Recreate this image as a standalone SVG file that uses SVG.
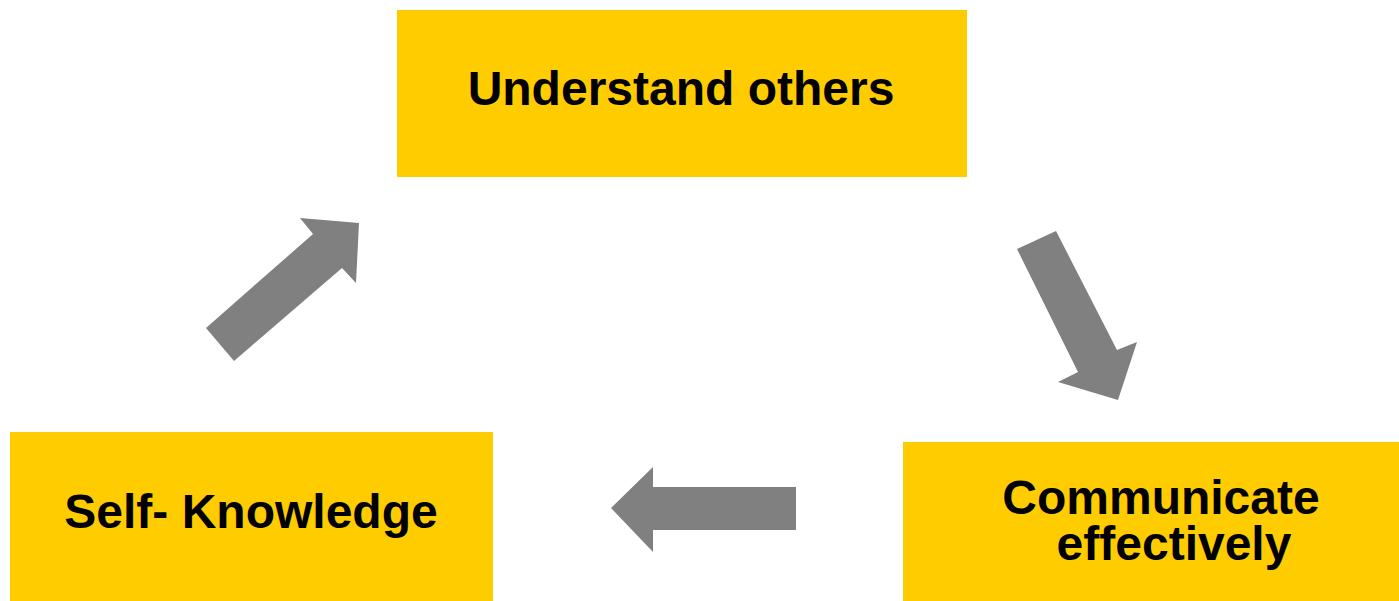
<svg xmlns="http://www.w3.org/2000/svg" width="1399" height="601" viewBox="0 0 1399 601">
<style>
.box{fill:#FFCC00}
.lbl{font-family:"Liberation Sans",Arial,sans-serif;font-weight:bold;font-size:48px;fill:#000;text-anchor:middle}
.arr{fill:#808080}
</style>
<rect width="1399" height="601" fill="#fff"/>
<g id="connectors">
<polygon class="arr" points="206,328 313,234 300,218 359,223 356,283 342,268 234,361"/>
<polygon class="arr" points="1017,249 1056,231 1117,350 1137,342 1118,400 1058,382 1078,372"/>
<polygon class="arr" points="611,508 653,467 653,487 796,487 796,530 653,530 653,552"/>
</g>
<g id="understand-others">
<rect class="box" x="397" y="10" width="570" height="167"/>
<text class="lbl" x="681" y="105">Understand others</text>
</g>
<g id="communicate-effectively">
<rect class="box" x="903" y="442" width="496" height="159"/>
<text class="lbl" x="1161" y="514">Communicate</text>
<text class="lbl" x="1174" y="560">effectively</text>
</g>
<g id="self-knowledge">
<rect class="box" x="10" y="432" width="483" height="169"/>
<text class="lbl" x="251" y="528">Self- Knowledge</text>
</g>
</svg>
